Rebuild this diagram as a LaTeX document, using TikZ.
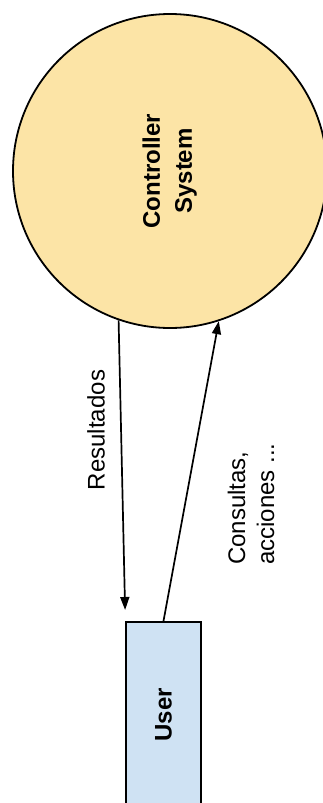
\documentclass[tikz,border=0pt]{standalone}
\usepackage{fontspec}
\setmainfont{Liberation Sans}
\usetikzlibrary{arrows.meta}
\definecolor{ctrlfill}{RGB}{252,228,166}
\definecolor{userfill}{RGB}{207,226,243}
\begin{document}
\begin{tikzpicture}[x=1pt,y=-1pt,
  every node/.style={font=\fontsize{24}{29}\selectfont},
  flow/.style={line width=1.7pt,-{Triangle[length=13pt,width=9pt]}},
  lbl/.style={rotate=90,inner sep=0pt}]
\useasboundingbox (0,0) rectangle (323,803);
\node[circle,draw,line width=1.8pt,fill=ctrlfill,minimum size=314pt,inner sep=0pt] (ctrl) at (170,171)
  {\rotatebox{90}{\bfseries\begin{tabular}{@{}c@{}}Controller\\[3pt]System\end{tabular}}};
\node[draw,line width=1.8pt,fill=userfill,minimum width=75pt,minimum height=186pt,inner sep=0pt,anchor=north] (user) at (163.5,621)
  {\rotatebox{90}{\bfseries User}};
\draw[flow] (ctrl.251) -- ([yshift=11pt]user.north west);
\draw[flow] (user.north) -- (ctrl.288);
\node[lbl] (res) at (96,430) {Resultados};
\node[lbl,align=left] (cons) at (251,504) {Consultas,\\acciones ...};
\end{tikzpicture}
\end{document}
